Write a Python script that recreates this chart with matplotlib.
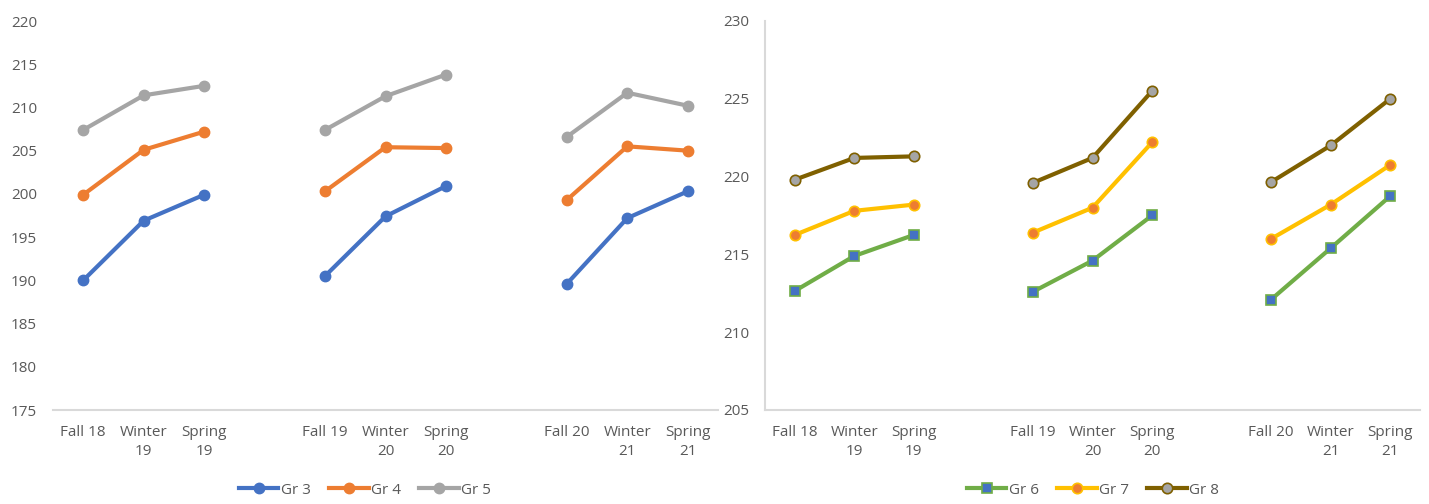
import numpy as np
import matplotlib
matplotlib.use("Agg")
import matplotlib.pyplot as plt

plt.rcParams['font.family'] = ['Open Sans', 'DejaVu Sans']

# Term labels; empty slots separate the school years
terms = ["Fall 18", "Winter\n19", "Spring\n19", "",
         "Fall 19", "Winter\n20", "Spring\n20", "",
         "Fall 20", "Winter\n21", "Spring\n21"]

nan = np.nan
gr3 = [190.0, 196.9, 199.9, nan, 190.5, 197.4, 200.9, nan, 189.6, 197.2, 200.3]
gr4 = [199.9, 205.1, 207.2, nan, 200.3, 205.4, 205.3, nan, 199.3, 205.5, 205.0]
gr5 = [207.4, 211.4, 212.5, nan, 207.4, 211.3, 213.8, nan, 206.6, 211.7, 210.2]

gr6 = [212.65, 214.9, 216.25, nan, 212.6, 214.6, 217.5, nan, 212.1, 215.4, 218.75]
gr7 = [216.25, 217.8, 218.2, nan, 216.4, 218.0, 222.2, nan, 216.0, 218.2, 220.75]
gr8 = [219.8, 221.2, 221.3, nan, 219.6, 221.2, 225.5, nan, 219.65, 222.0, 225.0]

left_ticks = list(range(175, 221, 5))
right_ticks = list(range(205, 231, 5))

W, H = 1429, 504
fig = plt.figure(figsize=(W / 100, H / 100), dpi=100)

ax1 = fig.add_axes([53 / W, (H - 410) / H, 665 / W, 389 / H])
ax2 = fig.add_axes([765 / W, (H - 410) / H, 655 / W, 389 / H])

x = np.arange(len(terms))
lw = 3.0
ms = 7.5

ax1.plot(x, gr3, color="#4472C4", lw=lw, marker="o", ms=ms, label="Gr 3")
ax1.plot(x, gr4, color="#ED7D31", lw=lw, marker="o", ms=ms, label="Gr 4")
ax1.plot(x, gr5, color="#A5A5A5", lw=lw, marker="o", ms=ms, label="Gr 5")

ax2.plot(x, gr6, color="#70AD47", lw=lw, marker="s", ms=6.5,
         mfc="#4472C4", mec="#70AD47", mew=1.2, label="Gr 6")
ax2.plot(x, gr7, color="#FFC000", lw=lw, marker="o", ms=ms,
         mfc="#ED7D31", mec="#FFC000", mew=1.2, label="Gr 7")
ax2.plot(x, gr8, color="#7F6000", lw=lw, marker="o", ms=ms,
         mfc="#A5A5A5", mec="#7F6000", mew=1.2, label="Gr 8")

for ax, ticks in ((ax1, left_ticks), (ax2, right_ticks)):
    ax.set_xlim(-0.5, len(terms) - 0.5)
    ax.set_ylim(ticks[0], ticks[-1])
    ax.set_yticks(ticks)
    ax.set_xticks(x)
    ax.set_xticklabels(terms, linespacing=1.35)
    ax.tick_params(axis="both", length=0, labelsize=11, colors="#595959")
    ax.tick_params(axis="y", pad=11.5)
    ax.tick_params(axis="x", pad=11)
    for s in ("top", "right"):
        ax.spines[s].set_visible(False)
    ax.spines["bottom"].set_color("#D9D9D9")
    ax.spines["bottom"].set_linewidth(1.5)
    ax.spines["left"].set_color("#D9D9D9")
    ax.spines["left"].set_linewidth(1.5)
    for lab in ax.get_xticklabels():
        lab.set_verticalalignment("top")
        lab.set_horizontalalignment("center")

ax1.spines["left"].set_visible(False)

leg_kw = dict(loc="center", ncol=3, frameon=False, fontsize=11,
              labelcolor="#595959", handlelength=2.6, handletextpad=0.15,
              columnspacing=1.2)
ax1.legend(bbox_to_anchor=(312 / 665, (410 - 490) / 389), **leg_kw)
ax2.legend(bbox_to_anchor=((1093 - 765) / 655, (410 - 490) / 389), **leg_kw)

fig.savefig("out.png", dpi=100)
